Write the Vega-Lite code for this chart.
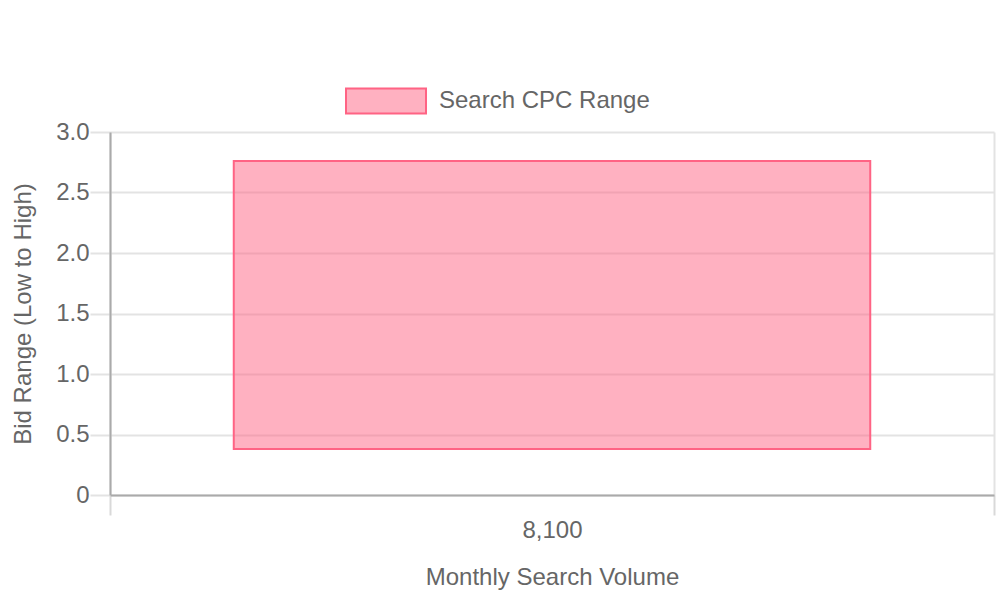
{
  "$schema": "https://vega.github.io/schema/vega-lite/v6.json",
  "width": 884,
  "height": 363,
  "autosize": {"type": "none"},
  "padding": {"left": 110, "top": 132, "right": 6, "bottom": 105},
  "background": "white",
  "config": {
    "view": {"stroke": null},
    "font": "Liberation Sans"
  },
  "data": {
    "values": [
      {"volume": "8,100", "low": 0.38, "high": 2.76, "series": "Search CPC Range"}
    ]
  },
  "mark": {
    "type": "bar",
    "width": {"band": 0.72},
    "stroke": "#ff6384",
    "strokeWidth": 2
  },
  "encoding": {
    "x": {
      "field": "volume",
      "type": "nominal",
      "scale": {"paddingInner": 0, "paddingOuter": 0},
      "axis": {
        "title": "Monthly Search Volume",
        "labelAngle": 0,
        "tickBand": "extent",
        "tickSize": 20,
        "tickWidth": 2,
        "tickColor": "#d9d9d9",
        "domainColor": "#aaaaaa",
        "domainWidth": 2,
        "grid": true,
        "gridColor": "#e3e3e3",
        "gridWidth": 2,
        "labelPadding": 3,
        "labelFontSize": 24,
        "labelColor": "#666666",
        "labelFont": "Liberation Sans",
        "titleFontSize": 24,
        "titleFontWeight": "normal",
        "titleColor": "#666666",
        "titleFont": "Liberation Sans",
        "titlePadding": 23
      }
    },
    "y": {
      "field": "low",
      "type": "quantitative",
      "scale": {"domain": [0, 3], "nice": false, "zero": true},
      "axis": {
        "title": "Bid Range (Low to High)",
        "values": [0, 0.5, 1, 1.5, 2, 2.5, 3],
        "labelExpr": "datum.value == 0 ? '0' : format(datum.value, '.1f')",
        "tickSize": 20,
        "tickWidth": 2,
        "tickColor": "#e3e3e3",
        "domainColor": "#aaaaaa",
        "domainWidth": 2,
        "grid": true,
        "gridColor": "#e3e3e3",
        "gridWidth": 2,
        "labelPadding": 1,
        "labelFontSize": 24,
        "labelColor": "#666666",
        "labelFont": "Liberation Sans",
        "titleFontSize": 24,
        "titleFontWeight": "normal",
        "titleColor": "#666666",
        "titleFont": "Liberation Sans",
        "titlePadding": 20
      }
    },
    "y2": {"field": "high"},
    "fill": {
      "field": "series",
      "type": "nominal",
      "scale": {"domain": ["Search CPC Range"], "range": ["rgba(255,99,132,0.5)"]},
      "legend": {
        "title": null,
        "orient": "none",
        "legendX": 235,
        "legendY": -72,
        "symbolType": "M-1,-0.3125H1V0.3125H-1Z",
        "symbolSize": 6400,
        "symbolStrokeColor": "#ff6384",
        "symbolStrokeWidth": 2,
        "symbolOpacity": 1,
        "labelFontSize": 24,
        "labelColor": "#666666",
        "labelFont": "Liberation Sans",
        "labelOffset": 12,
        "labelLimit": 400,
        "padding": 0
      }
    }
  }
}
